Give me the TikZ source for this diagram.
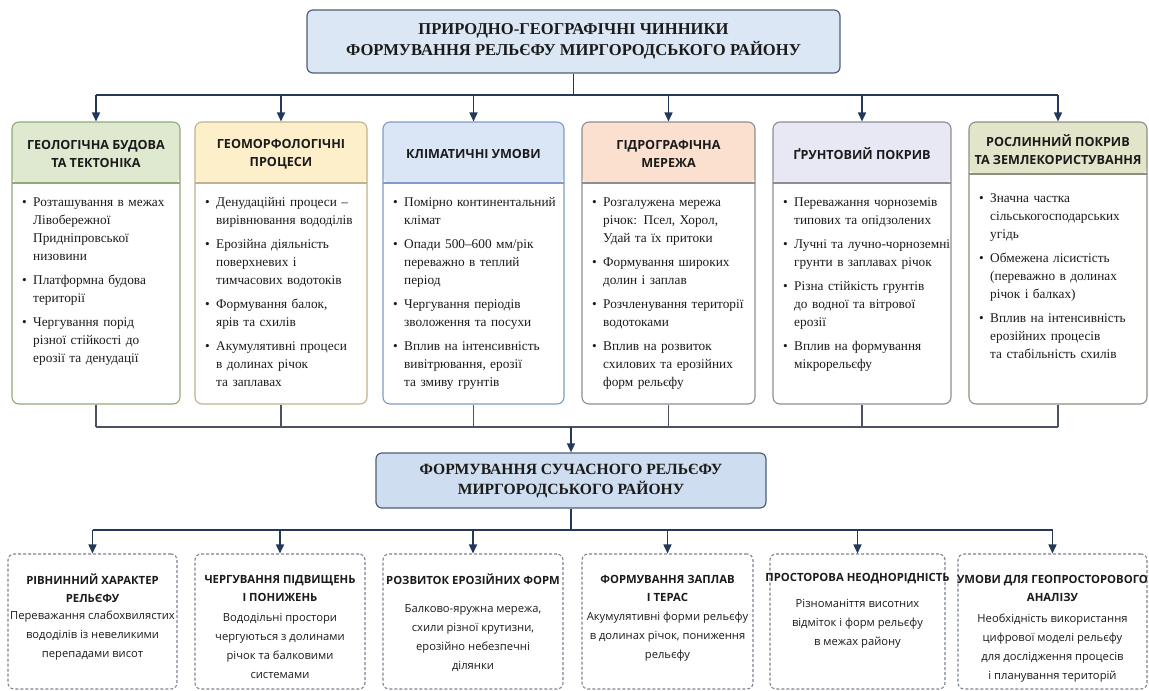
\documentclass[tikz,border=0pt]{standalone}
\usepackage{fontspec}
\setmainfont{Liberation Serif}
\newfontfamily\osans{Open Sans}
\usetikzlibrary{arrows.meta,calc}

\definecolor{linec}{HTML}{23385A}
\definecolor{busgray}{HTML}{4A5262}
\definecolor{ink}{HTML}{1B1B1B}
\definecolor{titlefill}{HTML}{DCE7F5}
\definecolor{midfill}{HTML}{CFDDF0}
\definecolor{titledraw}{HTML}{4F5F7A}
\definecolor{hgreen}{HTML}{DEE9D0}
\definecolor{dgreen}{HTML}{8DAA78}
\definecolor{hyellow}{HTML}{FDEFC9}
\definecolor{dyellow}{HTML}{BFB28C}
\definecolor{hblue}{HTML}{DAE6F6}
\definecolor{dblue}{HTML}{7E9CC5}
\definecolor{hpeach}{HTML}{FBE0CF}
\definecolor{dpeach}{HTML}{8E8E8E}
\definecolor{hlav}{HTML}{E8E8F5}
\definecolor{dlav}{HTML}{8C8C98}
\definecolor{holive}{HTML}{E2E5C9}
\definecolor{dolive}{HTML}{8E907F}
\definecolor{dashc}{HTML}{7C8594}

\newcommand\ttlfont{\fontsize{16.6}{21}\selectfont\bfseries}
\newcommand\midttlfont{\fontsize{15.6}{20}\selectfont\bfseries}
\newcommand\colhdrfont{\osans\bfseries\fontsize{12.6}{18.5}\selectfont}
\newcommand\colbodyfont{\fontsize{13.3}{18}\selectfont}
\newcommand\reshdrfont{\osans\bfseries\fontsize{11.3}{18}\selectfont}
\newcommand\resbodyfont{\osans\fontsize{11.2}{19}\selectfont}

% bullet items for the factor columns
\newcommand\firstpt{\noindent\hangindent=11pt\hangafter=1\makebox[11pt][l]{•}\strut}
\newcommand\nextpt{\par\vspace{6pt}\noindent\hangindent=11pt\hangafter=1\makebox[11pt][l]{•}}
\newcommand\nl{\newline}

\tikzset{
  link/.style={draw=linec, line width=1.6pt},
  arr/.style={link, -{Triangle[length=9pt,width=8pt]}},
  joinline/.style={draw=busgray, line width=1.3pt},
  titlebox/.style={draw=titledraw, line width=1.2pt, rounded corners=6pt,
    align=center, inner sep=0pt, text=ink},
  colbox/.style={rounded corners=7pt, line width=1.1pt, fill=white, inner sep=0pt},
  hdrtext/.style={align=center, font=\colhdrfont, inner sep=0pt, text=ink},
  bodytext/.style={anchor=north west, inner sep=0pt, text width=190pt,
    font=\colbodyfont, text=ink},
  resbox/.style={draw=dashc, dash pattern=on 3pt off 2pt, rounded corners=6pt,
    line width=1.1pt, inner sep=0pt, fill=white},
  reshdr/.style={align=center, font=\reshdrfont, inner sep=0pt, text=ink},
  resbody/.style={align=center, font=\resbodyfont, inner sep=0pt, text=ink},
}

% factor column: name, left, right, header fill, border, header height,
% header text, body top, body
\newcommand\factorcol[9]{%
  \node[colbox, draw=#5, minimum width={#3-#2}, minimum height=282pt,
    path picture={
      \fill[#4] (path picture bounding box.north west) rectangle
        ([yshift=-#6pt]path picture bounding box.north east);
      \draw[#5, line width=1.1pt] ([yshift=-#6pt]path picture bounding box.north west)
        -- ([yshift=-#6pt]path picture bounding box.north east);
    }] (#1) at ({(#2+#3)/2}, 263) {};
  \node[hdrtext] (#1-h) at ({(#2+#3)/2}, {122+#6/2+1.5}) {#7};
  \node[bodytext] (#1-b) at ({#2+10}, #8) {#9\par};
}

% result box: name, left, right, header text, header centre, body text, body centre
\newcommand\resultbox[7]{%
  \node[resbox, minimum width={#3-#2}, minimum height=135pt]
    (#1) at ({(#2+#3)/2}, 621.5) {};
  \node[reshdr] (#1-h) at ({(#2+#3)/2}, #5) {#4};
  \node[resbody] (#1-b) at ({(#2+#3)/2}, #7) {#6};
}

\begin{document}
\begin{tikzpicture}[x=1pt, y=-1pt]
\useasboundingbox (0,0) rectangle (1149,691);
\fill[white] (0,0) rectangle (1149,691);

% title
\node[titlebox, fill=titlefill, minimum width=533pt, minimum height=63pt,
  font=\ttlfont] (top) at (573.5, 41.5)
  {ПРИРОДНО-ГЕОГРАФІЧНІ ЧИННИКИ\\ФОРМУВАННЯ РЕЛЬЄФУ МИРГОРОДСЬКОГО РАЙОНУ};

% factor columns
\factorcol{c1}{12}{180}{hgreen}{dgreen}{61}{ГЕОЛОГІЧНА БУДОВА\\ТА ТЕКТОНІКА}{194}{%
  \firstpt Розташування в межах\nl Лівобережної\nl Придніпровської\nl низовини
  \nextpt Платформна будова\nl території
  \nextpt Чергування порід\nl різної стійкості до\nl ерозії та денудації}

\factorcol{c2}{195}{367}{hyellow}{dyellow}{61}{ГЕОМОРФОЛОГІЧНІ\\ПРОЦЕСИ}{194}{%
  \firstpt Денудаційні процеси –\nl вирівнювання вододілів
  \nextpt Ерозійна діяльність\nl поверхневих і\nl тимчасових водотоків
  \nextpt Формування балок,\nl ярів та схилів
  \nextpt Акумулятивні процеси\nl в долинах річок\nl та заплавах}

\factorcol{c3}{383}{564}{hblue}{dblue}{61}{КЛІМАТИЧНІ УМОВИ}{194}{%
  \firstpt Помірно континентальний\nl клімат
  \nextpt Опади 500–600 мм/рік\nl переважно в теплий\nl період
  \nextpt Чергування періодів\nl зволоження та посухи
  \nextpt Вплив на інтенсивність\nl вивітрювання, ерозії\nl та змиву грунтів}

\factorcol{c4}{582}{755}{hpeach}{dpeach}{61}{ГІДРОГРАФІЧНА\\МЕРЕЖА}{194}{%
  \firstpt Розгалужена мережа\nl річок: Псел, Хорол,\nl Удай та їх притоки
  \nextpt Формування широких\nl долин і заплав
  \nextpt Розчленування території\nl водотоками
  \nextpt Вплив на розвиток\nl схилових та ерозійних\nl форм рельєфу}

\factorcol{c5}{773}{951}{hlav}{dlav}{61}{ҐРУНТОВИЙ ПОКРИВ}{194}{%
  \firstpt Переважання чорноземів\nl типових та опідзолених
  \nextpt Лучні та лучно-чорноземні\nl грунти в заплавах річок
  \nextpt Різна стійкість грунтів\nl до водної та вітрової\nl ерозії
  \nextpt Вплив на формування\nl мікрорельєфу}

\factorcol{c6}{969}{1147}{holive}{dolive}{52}{РОСЛИННИЙ ПОКРИВ\\ТА ЗЕМЛЕКОРИСТУВАННЯ}{190}{%
  \firstpt Значна частка\nl сільськогосподарських\nl угідь
  \nextpt Обмежена лісистість\nl (переважно в долинах\nl річок і балках)
  \nextpt Вплив на інтенсивність\nl ерозійних процесів\nl та стабільність схилів}

% title to factors
\coordinate (busT) at (0,95);
\draw[link] (top.south) -- (top.south |- busT);
\draw[link] (c1.north |- busT) -- (c6.north |- busT);
\foreach \c in {c1,c2,c3,c4,c5,c6}
  \draw[arr] (\c.north |- busT) -- (\c.north);

% synthesis box
\node[titlebox, fill=midfill, minimum width=390pt, minimum height=55pt,
  font=\midttlfont] (mid) at (571, 480.5)
  {ФОРМУВАННЯ СУЧАСНОГО РЕЛЬЄФУ\\МИРГОРОДСЬКОГО РАЙОНУ};

% factors to synthesis
\coordinate (busM) at (0,427);
\foreach \c in {c1,c2,c3,c4,c5,c6}
  \draw[joinline] (\c.south) -- (\c.south |- busM);
\draw[joinline] (c1.south |- busM) -- (c6.south |- busM);
\draw[arr] (mid.north |- busM) -- (mid.north);

% resulting relief features
\resultbox{r1}{8}{177}{РІВНИННИЙ ХАРАКТЕР\\РЕЛЬЄФУ}{588}
  {Переважання слабохвилястих\\вододілів із невеликими\\перепадами висот}{636}
\resultbox{r2}{195}{365}{ЧЕРГУВАННЯ ПІДВИЩЕНЬ\\І ПОНИЖЕНЬ}{588}
  {Вододільні простори\\чергуються з долинами\\річок та балковими\\системами}{646}
\resultbox{r3}{383}{563}{РОЗВИТОК ЕРОЗІЙНИХ ФОРМ}{579}
  {Балково-яружна мережа,\\схили різної крутизни,\\ерозійно небезпечні\\ділянки}{638}
\resultbox{r4}{582}{753}{ФОРМУВАННЯ ЗАПЛАВ\\І ТЕРАС}{588}
  {Акумулятивні форми рельєфу\\в долинах річок, пониження\\рельєфу}{637}
\resultbox{r5}{770}{945}{ПРОСТОРОВА НЕОДНОРІДНІСТЬ}{579}
  {Різноманіття висотних\\відміток і форм рельєфу\\в межах району}{624}
\resultbox{r6}{958}{1147}{УМОВИ ДЛЯ ГЕОПРОСТОРОВОГО\\АНАЛІЗУ}{588}
  {Необхідність використання\\цифрової моделі рельєфу\\для дослідження процесів\\і планування територій}{648}

% synthesis to features
\coordinate (busB) at (0,530);
\draw[link] (mid.south) -- (mid.south |- busB);
\draw[link] (r1.north |- busB) -- (r6.north |- busB);
\foreach \r in {r1,r2,r3,r4,r5,r6}
  \draw[arr] (\r.north |- busB) -- (\r.north);
\end{tikzpicture}
\end{document}
